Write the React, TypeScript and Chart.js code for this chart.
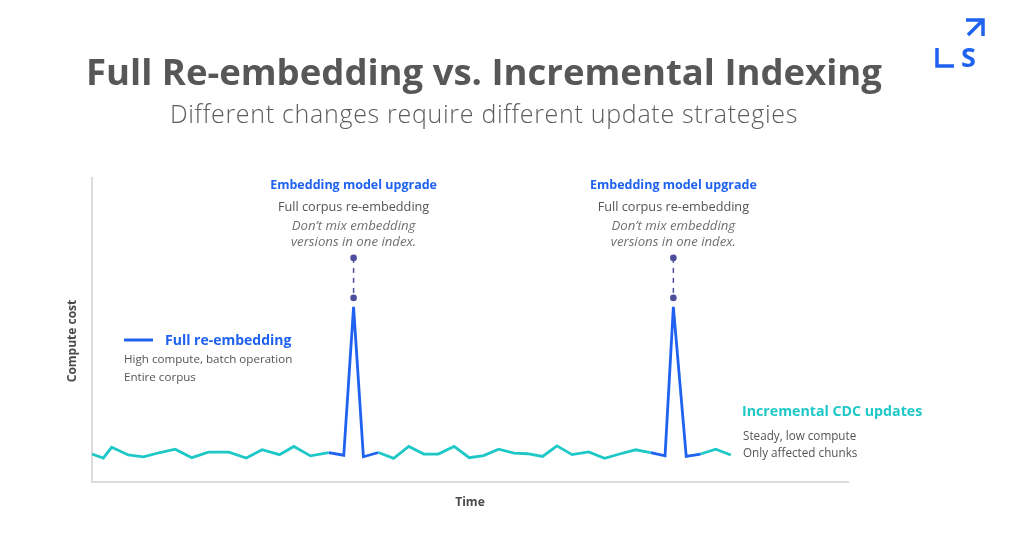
import React, { useEffect, useRef } from "react";
import { Chart, registerables } from "chart.js";

Chart.register(...registerables);

// Time positions (0-100) and compute cost values (0-100)
const timePoints = [0, 1.5, 2.6, 4.8, 6.8, 9.0, 11.0, 13.2, 15.4, 18.1, 20.4, 22.5, 24.8, 26.7, 28.9, 31.3, 33.3, 34.6, 35.9, 37.9, 39.9, 41.9, 43.9, 45.8, 47.9, 49.9, 51.8, 53.8, 55.8, 57.6, 59.6, 61.5, 63.5, 65.7, 67.8, 69.9, 71.9, 73.9, 75.8, 76.9, 78.6, 80.5, 82.5, 84.5];
const costValues = [9.2, 7.9, 11.4, 8.9, 8.3, 9.7, 10.8, 8.0, 9.8, 9.8, 7.9, 10.6, 9.0, 11.7, 8.6, 9.7, 8.8, 57.6, 8.3, 9.7, 7.8, 11.7, 9.2, 9.2, 11.7, 8.0, 8.7, 10.8, 9.5, 9.3, 8.4, 11.9, 9.0, 9.9, 7.8, 9.3, 10.6, 9.7, 8.6, 57.6, 8.4, 9.2, 10.8, 8.9];
// indexes of the full re-embedding spikes
const spikeIndexes = [17, 39];

const titleText = "Full Re-embedding vs. Incremental Indexing";
const subtitleText = "Different changes require different update strategies";
const spikeTitle = "Embedding model upgrade";
const spikeLine1 = "Full corpus re-embedding";
const spikeLine2 = "Don\u2019t mix embedding";
const spikeLine3 = "versions in one index.";
const fullLegend = "Full re-embedding";
const fullNotes = ["High compute, batch operation", "Entire corpus"];
const incLegend = "Incremental CDC updates";
const incNotes = ["Steady, low compute", "Only affected chunks"];
const yAxisLabel = "Compute cost";
const xAxisLabel = "Time";

const BLUE = "#1f62f0";
const TEAL = "#1ec8c6";
const GRAY_TEXT = "#555555";
const FONT = "'Open Sans', sans-serif";

function isBlueIdx(i: number) {
  return spikeIndexes.some((s) => Math.abs(i - s) <= 2);
}
function isTealIdx(i: number) {
  return !spikeIndexes.some((s) => Math.abs(i - s) <= 1);
}

const tealData = timePoints.map((t, i) => ({ x: t, y: isTealIdx(i) ? costValues[i] : null }));
const blueData = timePoints.map((t, i) => ({ x: t, y: isBlueIdx(i) ? costValues[i] : null }));

const textPlugin = {
  id: "textPlugin",
  afterDraw(chart: any) {
    const ctx = chart.ctx as CanvasRenderingContext2D;
    const xs = chart.scales.x;
    const ys = chart.scales.y;
    ctx.save();

    // Title
    ctx.textBaseline = "alphabetic";
    ctx.textAlign = "center";
    ctx.fillStyle = "#575757";
    ctx.font = `bold 36.5px ${FONT}`;
    ctx.fillText(titleText, 484, 85);
    ctx.fillStyle = "#5c5c5c";
    ctx.font = `300 25px ${FONT}`;
    (ctx as any).letterSpacing = "0.7px";
    ctx.fillText(subtitleText, 484, 123);
    (ctx as any).letterSpacing = "0px";

    // Logo
    ctx.strokeStyle = BLUE;
    ctx.lineWidth = 3.5;
    ctx.lineCap = "butt";
    ctx.beginPath();
    ctx.moveTo(937, 48);
    ctx.lineTo(937, 66);
    ctx.lineTo(954, 66);
    ctx.stroke();
    ctx.beginPath();
    ctx.moveTo(966, 20);
    ctx.lineTo(983, 20);
    ctx.lineTo(983, 36);
    ctx.moveTo(983, 20);
    ctx.lineTo(968, 35);
    ctx.stroke();
    ctx.fillStyle = BLUE;
    ctx.font = `bold 27px ${FONT}`;
    ctx.textAlign = "left";
    ctx.fillText("S", 961, 67);

    // spike annotations
    spikeIndexes.forEach((idx) => {
      const px = xs.getPixelForValue(timePoints[idx]);
      const py = ys.getPixelForValue(costValues[idx]);
      const top = py - 49;
      const bot = py - 9;
      ctx.strokeStyle = "#4d4f9c";
      ctx.lineWidth = 1.5;
      ctx.setLineDash([5, 5]);
      ctx.beginPath();
      ctx.moveTo(px, top);
      ctx.lineTo(px, bot);
      ctx.stroke();
      ctx.setLineDash([]);
      ctx.fillStyle = "#4d4f9c";
      ctx.beginPath();
      ctx.arc(px, top, 3.3, 0, Math.PI * 2);
      ctx.fill();
      ctx.beginPath();
      ctx.arc(px, bot, 3.3, 0, Math.PI * 2);
      ctx.fill();

      ctx.textAlign = "center";
      ctx.fillStyle = BLUE;
      ctx.font = `bold 12.5px ${FONT}`;
      ctx.fillText(spikeTitle, px, 189);
      ctx.fillStyle = GRAY_TEXT;
      ctx.font = `12.7px ${FONT}`;
      ctx.fillText(spikeLine1, px, 211);
      ctx.fillStyle = "#707070";
      ctx.font = `italic 13.2px ${FONT}`;
      ctx.fillText(spikeLine2, px, 230);
      ctx.fillText(spikeLine3, px, 246);
    });

    // Full re-embedding legend
    ctx.strokeStyle = BLUE;
    ctx.lineWidth = 3;
    ctx.beginPath();
    ctx.moveTo(124, 340);
    ctx.lineTo(153, 340);
    ctx.stroke();
    ctx.textAlign = "left";
    ctx.fillStyle = BLUE;
    ctx.font = `bold 14px ${FONT}`;
    ctx.fillText(fullLegend, 165, 345);
    ctx.fillStyle = GRAY_TEXT;
    ctx.font = `11.6px ${FONT}`;
    ctx.fillText(fullNotes[0], 124, 363);
    ctx.fillText(fullNotes[1], 124, 381);

    // Incremental legend
    ctx.fillStyle = TEAL;
    ctx.font = `bold 14.2px ${FONT}`;
    ctx.fillText(incLegend, 742, 416);
    ctx.fillStyle = GRAY_TEXT;
    ctx.font = `11.7px ${FONT}`;
    ctx.fillText(incNotes[0], 743, 440);
    ctx.fillText(incNotes[1], 743, 457);

    // axis labels
    ctx.fillStyle = "#4a4a4a";
    ctx.font = `bold 12px ${FONT}`;
    ctx.textAlign = "center";
    ctx.fillText(xAxisLabel, 470, 506);
    ctx.save();
    ctx.translate(76, 341);
    ctx.rotate(-Math.PI / 2);
    ctx.fillText(yAxisLabel, 0, 0);
    ctx.restore();

    ctx.restore();
  },
};

export default function App() {
  const ref = useRef<HTMLCanvasElement | null>(null);
  useEffect(() => {
    if (!ref.current) return;
    const chart = new Chart(ref.current, {
      type: "line",
      data: {
        datasets: [
          {
            label: "Incremental CDC updates",
            data: tealData as any,
            borderColor: TEAL,
            borderWidth: 2.8,
            pointRadius: 0,
            spanGaps: false,
            tension: 0,
          },
          {
            label: "Full re-embedding",
            data: blueData as any,
            borderColor: BLUE,
            borderWidth: 2.8,
            pointRadius: 0,
            spanGaps: false,
            tension: 0,
          },
        ],
      },
      options: {
        animation: false,
        responsive: true,
        maintainAspectRatio: false,
        layout: { padding: { left: 84, top: 178, right: 176, bottom: 44 } },
        plugins: { legend: { display: false }, tooltip: { enabled: false }, title: { display: false } },
        scales: {
          x: {
            type: "linear",
            min: 0,
            max: 100,
            grid: { display: false },
            ticks: { display: false },
            border: { color: "#dcdcdc", width: 2 },
          },
          y: {
            min: 0,
            max: 100,
            grid: { display: false },
            ticks: { display: false },
            border: { color: "#dcdcdc", width: 2 },
          },
        },
      },
      plugins: [textPlugin],
    });
    return () => chart.destroy();
  }, []);
  return (
    <div style={{ position: "fixed", left: 0, top: 0, width: 1024, height: 534, background: "#ffffff" }}>
      <canvas ref={ref} />
    </div>
  );
}
